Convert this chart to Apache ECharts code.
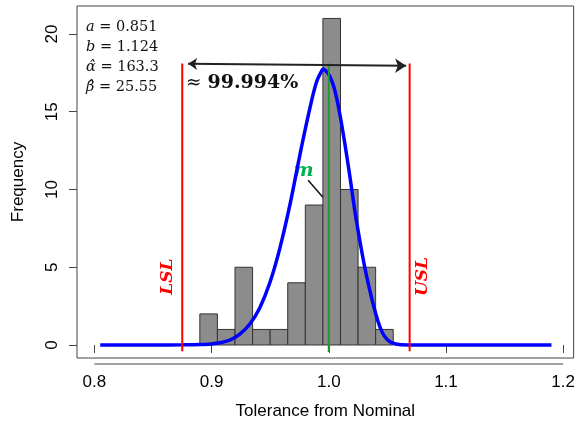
<!DOCTYPE html>
<html>
<head>
<meta charset="utf-8">
<script src="https://cdn.jsdelivr.net/npm/echarts@6/dist/echarts.min.js"></script>
<style>
  html, body { margin: 0; padding: 0; background: #fff; }
  #chart { width: 578px; height: 426px; }
</style>
</head>
<body>
<div id="chart"></div>
<script>
// Histogram of measured tolerances (bin width 0.015 starting at 0.89)
const binStart = 0.89;
const binWidth = 0.015;
const binCounts = [2, 1, 5, 1, 1, 4, 9, 21, 10, 5, 1];

// Fitted density curve, scaled to frequency
const curveX = [0.805, 0.85, 0.875, 0.89, 0.9014, 0.9156, 0.9241, 0.9327, 0.9412, 0.9497,
  0.9582, 0.9668, 0.9753, 0.9838, 0.9895, 0.9938, 0.9951, 0.9965, 1.0008, 1.0051,
  1.0093, 1.0136, 1.0179, 1.0221, 1.0264, 1.0307, 1.0349, 1.0392, 1.0435, 1.0477,
  1.0535, 1.062, 1.075, 1.19];
const curveY = [0, 0, 0.01, 0.03, 0.08, 0.32, 0.7, 1.35, 2.4, 4.0,
  6.2, 9.0, 12.2, 15.2, 16.9, 17.6, 17.73, 17.7, 17.3, 16.4,
  14.9, 13.0, 10.9, 8.7, 6.75, 5.0, 3.55, 2.25, 1.2, 0.55,
  0.15, 0.02, 0, 0];

// Specification limits, target and covered span
const LSL = 0.875;
const USL = 1.069;
const target = 1.0;
const spanFrom = 0.880;
const spanTo = 1.066;
const coverageText = '99.994%';

// Fit parameters
const paramLines = [
  ['a', '0.851'],
  ['b', '1.124'],
  ['\u03B1\u0302', '163.3'],
  ['\u03B2\u0302', '25.55']
];

// Axis ticks
const xTicks = [0.8, 0.9, 1.0, 1.1, 1.2];
const yTicks = [0, 5, 10, 15, 20];

const histData = binCounts.map((c, i) => [binStart + i * binWidth, binStart + (i + 1) * binWidth, c]);
const curveData = curveX.map((x, i) => [x, curveY[i]]);

const chart = echarts.init(document.getElementById('chart'), null, { renderer: 'canvas' });

const sans = 'Liberation Sans';
const serif = 'DejaVu Serif';

const option = {
  animation: false,
  backgroundColor: '#fff',
  grid: {
    left: 77, right: 4, top: 6, bottom: 68,
    show: true, borderColor: '#444', borderWidth: 1, backgroundColor: 'transparent'
  },
  xAxis: {
    type: 'value',
    min: 0.7852, max: 1.2089,
    offset: 6,
    axisLine: { show: false },
    splitLine: { show: false },
    axisTick: { show: true, customValues: xTicks, length: 8, lineStyle: { color: '#444' } },
    axisLabel: {
      customValues: xTicks, formatter: v => v.toFixed(1),
      fontFamily: sans, fontSize: 17, color: '#000', margin: 10
    },
    name: 'Tolerance from Nominal',
    nameLocation: 'middle', nameGap: 39,
    nameTextStyle: { fontFamily: sans, fontSize: 17, color: '#000' }
  },
  yAxis: {
    type: 'value',
    min: -0.836, max: 21.80,
    axisLine: { show: false },
    splitLine: { show: false },
    axisTick: { show: true, customValues: yTicks, length: 8, lineStyle: { color: '#444' } },
    axisLabel: {
      customValues: yTicks, rotate: 90,
      fontFamily: sans, fontSize: 17, color: '#000', margin: 16
    },
    name: 'Frequency',
    nameLocation: 'middle', nameGap: 50,
    nameTextStyle: { fontFamily: sans, fontSize: 17, color: '#000' }
  },
  series: [
    {
      type: 'custom',
      name: 'histogram',
      data: histData,
      encode: { x: [0, 1], y: 2 },
      z: 1,
      renderItem: function (params, api) {
        const p0 = api.coord([api.value(0), api.value(2)]);
        const p1 = api.coord([api.value(1), 0]);
        return {
          type: 'rect',
          shape: { x: p0[0], y: p0[1], width: p1[0] - p0[0], height: p1[1] - p0[1] },
          style: { fill: '#8c8c8c', stroke: '#333', lineWidth: 1 }
        };
      }
    },
    {
      type: 'line',
      name: 'density',
      data: curveData,
      showSymbol: false,
      smooth: 0.4,
      z: 2,
      lineStyle: { color: '#0000ff', width: 3.5 }
    },
    {
      type: 'line',
      name: 'LSL',
      data: [[LSL, -0.4], [LSL, 18.1]],
      showSymbol: false,
      z: 3,
      lineStyle: { color: '#ff0000', width: 2 }
    },
    {
      type: 'line',
      name: 'USL',
      data: [[USL, -0.4], [USL, 18.1]],
      showSymbol: false,
      z: 3,
      lineStyle: { color: '#ff0000', width: 2 }
    },
    {
      type: 'line',
      name: 'target',
      data: [[target, -0.45], [target, 18.1]],
      showSymbol: false,
      z: 4,
      lineStyle: { color: '#1f9a2a', width: 2 }
    },
    {
      type: 'lines',
      name: 'span',
      coordinateSystem: 'cartesian2d',
      symbol: ['arrow', 'arrow'],
      symbolSize: [9, 11],
      z: 5,
      lineStyle: { color: '#222', width: 2, opacity: 1 },
      data: [{ coords: [[spanFrom, 18.08], [spanTo, 17.95]] }]
    },
    {
      type: 'lines',
      name: 'pointer',
      coordinateSystem: 'cartesian2d',
      z: 5,
      lineStyle: { color: '#111', width: 1.5, opacity: 1 },
      data: [{ coords: [[0.9824, 10.6], [0.995, 9.5]] }]
    }
  ]
};

chart.setOption(option);

// Annotation texts and the detached x-axis line
function px(x, y) { return chart.convertToPixel({ gridIndex: 0 }, [x, y]); }

const graphics = [];
const boxBottom = px(0.8, -0.836)[1];
const a0 = px(xTicks[0], 0), a1 = px(xTicks[xTicks.length - 1], 0);
graphics.push({
  type: 'line',
  shape: { x1: a0[0], y1: boxBottom + 6, x2: a1[0], y2: boxBottom + 6 },
  style: { stroke: '#444', lineWidth: 1 }
});

paramLines.forEach((p, i) => {
  graphics.push({
    type: 'text',
    left: 86, top: 20 + i * 20,
    style: {
      text: '{v|' + p[0] + '} = ' + p[1],
      fontFamily: serif, fontSize: 14.5, fill: '#111',
      rich: { v: { fontFamily: serif, fontSize: 14.5, fontStyle: 'italic', fill: '#111' } }
    }
  });
});

const cov = px(spanFrom, 0);
graphics.push({
  type: 'text',
  x: cov[0] - 2, y: 83,
  style: {
    text: '\u2248 {b|' + coverageText + '}',
    fontFamily: serif, fontSize: 18.5, fill: '#111', verticalAlign: 'middle',
    rich: { b: { fontFamily: serif, fontSize: 19, fontWeight: 'bold', fill: '#111' } }
  }
});

const mPos = px(0.9785, 11.2);
graphics.push({
  type: 'text', x: mPos[0], y: mPos[1],
  style: {
    text: 'm', fontFamily: serif, fontSize: 19, fontWeight: 'bold', fontStyle: 'italic',
    fill: '#00b050', align: 'center', verticalAlign: 'middle'
  }
});

const lslPos = px(LSL, 4.4);
graphics.push({
  type: 'text', x: lslPos[0] - 15, y: lslPos[1], rotation: Math.PI / 2,
  style: {
    text: 'LSL', fontFamily: serif, fontSize: 17, fontWeight: 'bold', fontStyle: 'italic',
    fill: '#ff0000', align: 'center', verticalAlign: 'middle'
  }
});
const uslPos = px(USL, 4.4);
graphics.push({
  type: 'text', x: uslPos[0] + 13, y: uslPos[1], rotation: Math.PI / 2,
  style: {
    text: 'USL', fontFamily: serif, fontSize: 17, fontWeight: 'bold', fontStyle: 'italic',
    fill: '#ff0000', align: 'center', verticalAlign: 'middle'
  }
});

chart.setOption({ graphic: graphics });
</script>
</body>
</html>
